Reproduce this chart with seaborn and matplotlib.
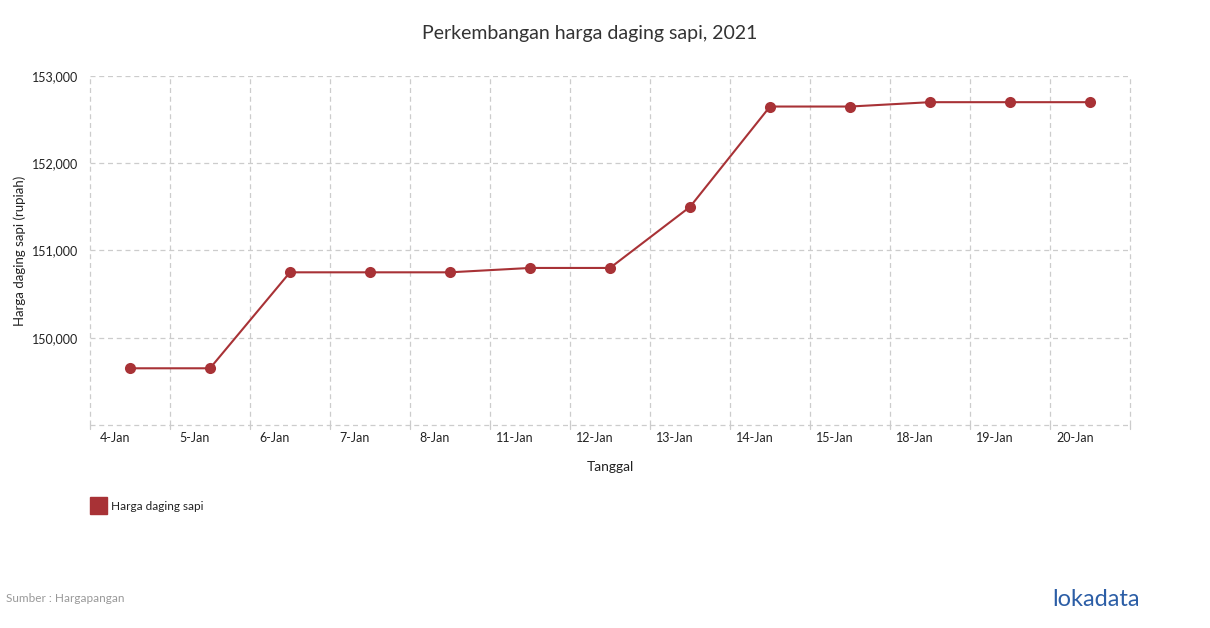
import numpy as np
import pandas as pd
import matplotlib
matplotlib.use("Agg")
import matplotlib.pyplot as plt
import matplotlib.transforms as mtransforms
from matplotlib.ticker import FuncFormatter
import seaborn as sns

dates = ["4-Jan", "5-Jan", "6-Jan", "7-Jan", "8-Jan", "11-Jan", "12-Jan",
         "13-Jan", "14-Jan", "15-Jan", "18-Jan", "19-Jan", "20-Jan"]
prices = [149650, 149650, 150750, 150750, 150750, 150800, 150800,
          151500, 152650, 152650, 152700, 152700, 152700]
y_ticks = [150000, 151000, 152000, 153000]
series_name = "Harga daging sapi"

sns.set_theme(style="white")
plt.rcParams['font.family'] = ['Lato', 'DejaVu Sans']

color = "#a83236"
grid_c = "#cccccc"

df = pd.DataFrame({"Tanggal": dates, "Harga": prices})
df["pos"] = np.arange(len(dates))

fig = plt.figure(figsize=(12.1, 6.28), dpi=100)
W, H = 1210, 628
ax = fig.add_axes([90 / W, 1 - 425 / H, (1130 - 90) / W, (425 - 76) / H])

sns.lineplot(data=df, x="pos", y="Harga", ax=ax, color=color, linewidth=1.5,
             marker="o", markersize=8, markeredgewidth=0, zorder=3)

n = len(dates)
ax.set_xlim(-0.5, n - 0.5)
ax.set_ylim(149000, 153000)

# gridlines
ax.set_yticks(y_ticks)
ax.yaxis.set_major_formatter(FuncFormatter(lambda v, p: f"{int(v):,}"))
for yv in y_ticks:
    ax.axhline(yv, color=grid_c, lw=0.9, ls=(0, (4, 3)), zorder=1)
for b in np.arange(-0.5, n, 1.0):
    ax.plot([b, b], [0, 1.0], transform=ax.get_xaxis_transform(), color=grid_c,
            lw=0.9, ls=(0, (4, 3)), zorder=1, clip_on=False)
    ax.plot([b, b], [-0.012, 0], transform=ax.get_xaxis_transform(), color=grid_c,
            lw=0.9, zorder=1, clip_on=False)
ax.axhline(149000, color=grid_c, lw=0.9, ls=(0, (4, 3)), zorder=1, clip_on=False)

for s in ax.spines.values():
    s.set_visible(False)

ax.set_xticks(np.arange(n))
ax.set_xticklabels(dates)
ax.tick_params(axis="both", length=0, labelsize=9, colors="#222222")
ax.tick_params(axis="x", pad=5)
ax.tick_params(axis="y", pad=8.5)
offset = mtransforms.ScaledTranslation(-15 / 100, 0, fig.dpi_scale_trans)
for lab in ax.get_xticklabels():
    lab.set_transform(lab.get_transform() + offset)

ax.set_xlabel("Tanggal", fontsize=10, color="#222222", labelpad=12)
ax.set_ylabel("Harga daging sapi (rupiah)", fontsize=9.5, color="#222222", labelpad=4)

fig.text(590 / W, 1 - 33 / H, "Perkembangan harga daging sapi, 2021",
         ha="center", va="center", fontsize=14, color="#333333")

# legend
fig.patches.append(plt.Rectangle((90 / W, 1 - 514 / H), 17 / W, 17 / H,
                                 transform=fig.transFigure, color=color))
fig.text(111 / W, 1 - 506 / H, series_name, ha="left", va="center",
         fontsize=8.5, color="#222222")

fig.text(6 / W, 1 - 598 / H, "Sumber : Hargapangan", ha="left", va="center",
         fontsize=8.5, color="#999999")
fig.text(1140 / W, 1 - 600 / H, "lokadata", ha="right", va="center",
         fontsize=17, color="#2c5ea6")

fig.savefig("out.png", dpi=100, facecolor="white")
